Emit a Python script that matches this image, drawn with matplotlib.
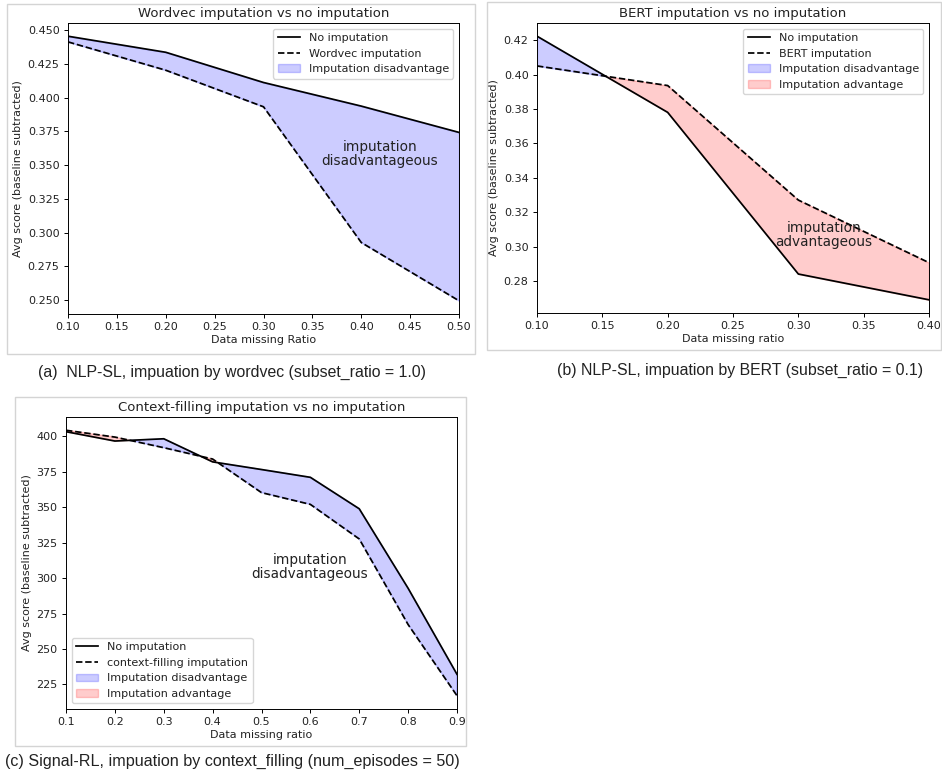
import numpy as np
import matplotlib
matplotlib.use('Agg')
from matplotlib import pyplot as plt
from matplotlib.patches import Rectangle

# (a) NLP-SL, wordvec
ratio_a = [0.1, 0.2, 0.3, 0.4, 0.5]
no_imp_a = [0.4456, 0.4337, 0.4113, 0.3938, 0.3743]
wordvec_a = [0.4414, 0.4204, 0.3933, 0.2927, 0.2495]

# (b) NLP-SL, BERT
ratio_b = [0.1, 0.2, 0.3, 0.4]
no_imp_b = [0.4223, 0.378, 0.284, 0.269]
bert_b = [0.405, 0.3936, 0.327, 0.2906]

# (c) Signal-RL, context filling
ratio_c = [0.1, 0.2, 0.3, 0.4, 0.5, 0.6, 0.7, 0.8, 0.9]
no_imp_c = [403.3, 396.7, 398.3, 382.0, 376.6, 371.1, 348.9, 292.8, 232.1]
ctx_c = [404.3, 399.5, 392.0, 384.0, 360.3, 352.0, 327.6, 267.2, 217.0]

plt.rcParams['font.size'] = 8
plt.rcParams['text.color'] = '#222222'
plt.rcParams['axes.labelcolor'] = '#222222'
plt.rcParams['xtick.labelcolor'] = '#222222'
plt.rcParams['ytick.labelcolor'] = '#222222'
plt.rcParams['axes.linewidth'] = 0.7
plt.rcParams['xtick.major.width'] = 0.7
plt.rcParams['ytick.major.width'] = 0.7
plt.rcParams['xtick.major.size'] = 2.6
plt.rcParams['ytick.major.size'] = 2.6

fig = plt.figure(figsize=(9.42, 7.74), dpi=100)
W, H = 942.0, 774.0

def ax_at(l, t, r, b):
    return fig.add_axes([l / W, 1 - b / H, (r - l) / W, (b - t) / H])

def frame(l, t, r, b):
    fig.patches.append(Rectangle((l / W, 1 - b / H), (r - l) / W, (b - t) / H,
                                 transform=fig.transFigure, fill=False,
                                 edgecolor='#d4d4d4', linewidth=1.0))

def panel(ax, x, base, imp, imp_label, title, xlabel, show_adv):
    x = np.array(x)
    base = np.array(base)
    imp = np.array(imp)
    ax.plot(x, base, 'k-', lw=1.25, label='No imputation')
    ax.plot(x, imp, 'k--', lw=1.25, label=imp_label)
    ax.fill_between(x, base, imp, where=base >= imp, color='blue', alpha=0.2,
                    interpolate=True, label='Imputation disadvantage')
    if show_adv:
        ax.fill_between(x, base, imp, where=base < imp, color='red', alpha=0.2,
                        interpolate=True, label='Imputation advantage')
    ax.set_xlim(x[0], x[-1])
    ax.set_title(title, fontsize=9.5, pad=4)
    ax.set_xlabel(xlabel, labelpad=2)
    ax.set_ylabel('Avg score (baseline subtracted)', labelpad=3)

frame(7, 4, 475, 354)
frame(487, 2, 941, 350)
frame(15, 397, 466, 746)

ax1 = ax_at(68, 23, 459, 314)
panel(ax1, ratio_a, no_imp_a, wordvec_a, 'Wordvec imputation',
      'Wordvec imputation vs no imputation', 'Data missing Ratio', False)
ax1.set_xticks(np.arange(0.1, 0.51, 0.05))
ax1.set_yticks(np.arange(0.25, 0.451, 0.025))
ax1.legend(loc='upper right')
ax1.text(0.419, 0.358, 'imputation\ndisadvantageous', fontsize=9.8,
         ha='center', va='center', linespacing=1.0)

ax2 = ax_at(537, 23, 929, 313)
panel(ax2, ratio_b, no_imp_b, bert_b, 'BERT imputation',
      'BERT imputation vs no imputation', 'Data missing ratio', True)
ax2.set_xticks(np.arange(0.1, 0.41, 0.05))
ax2.set_yticks(np.arange(0.28, 0.421, 0.02))
ax2.legend(loc='upper right')
ax2.text(0.3196, 0.3066, 'imputation\nadvantageous', fontsize=9.8,
         ha='center', va='center', linespacing=1.0)

ax3 = ax_at(66, 417, 457, 709)
panel(ax3, ratio_c, no_imp_c, ctx_c, 'context-filling imputation',
      'Context-filling imputation vs no imputation', 'Data missing ratio', True)
ax3.set_xticks(np.arange(0.1, 0.91, 0.1))
ax3.set_yticks(np.arange(225, 401, 25))
ax3.legend(loc='lower left')
ax3.text(0.599, 308, 'imputation\ndisadvantageous', fontsize=9.8,
         ha='center', va='center', linespacing=1.0)

cap_font = ['Liberation Sans', 'DejaVu Sans']
fig.text(232 / W, 1 - 372 / H, '(a)  NLP-SL, impuation by wordvec (subset_ratio = 1.0)',
         ha='center', va='center', fontsize=11.4, family=cap_font)
fig.text(740 / W, 1 - 370 / H, '(b) NLP-SL, impuation by BERT (subset_ratio = 0.1)',
         ha='center', va='center', fontsize=11.4, family=cap_font)
fig.text(5 / W, 1 - 761 / H, '(c) Signal-RL, impuation by context_filling (num_episodes = 50)',
         ha='left', va='center', fontsize=11.6, family=cap_font)

fig.savefig('out.png', dpi=100)
